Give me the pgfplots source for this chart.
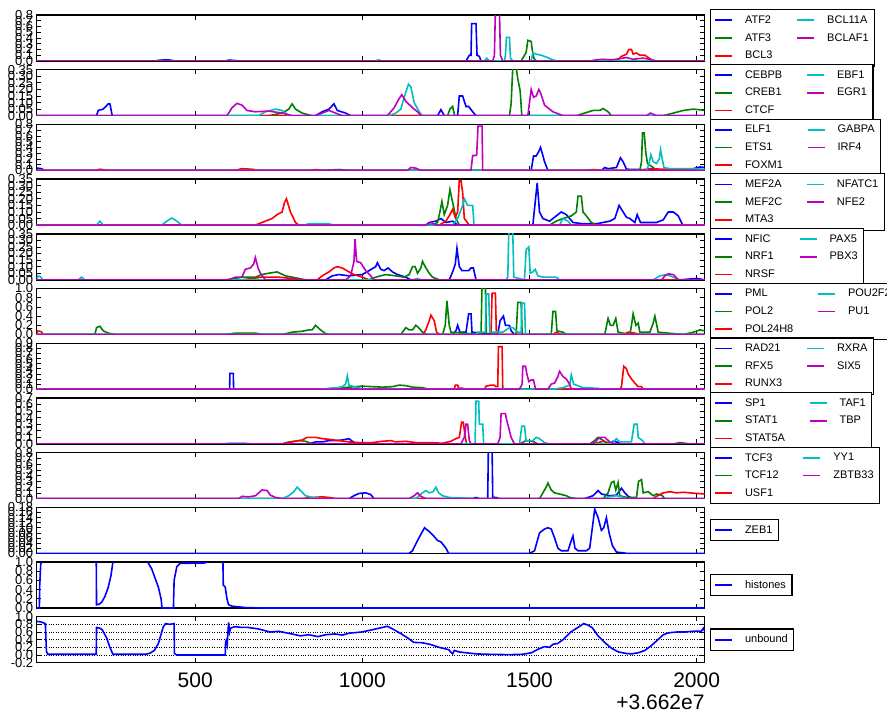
\documentclass[border=0pt]{standalone}
\usepackage{fontspec}
\setmainfont{Liberation Sans}
\usepackage{pgfplots}
\pgfplotsset{compat=1.18}

\definecolor{mpb}{rgb}{0,0,1}
\definecolor{mpg}{rgb}{0,0.5,0}
\definecolor{mpr}{rgb}{1,0,0}
\definecolor{mpc}{rgb}{0,0.75,0.75}
\definecolor{mpm}{rgb}{0.75,0,0.75}

\pgfplotsset{
  panel/.style={
    scale only axis, width=668pt, height=46pt,
    xmin=26, xmax=2024, ymin=0,
    xtick={500,1000,1500,2000}, xticklabels={},
    tick align=inside, major tick length=4.5pt,
    tick style={black, line width=0.7pt},
    axis line style={black, line width=1.4pt},
    scaled ticks=false,
    /pgf/number format/assume math mode=true,
    yticklabel style={font=\fontsize{13}{13}\selectfont,
      /pgf/number format/fixed, /pgf/number format/fixed zerofill},
    every axis plot/.append style={line width=1.6pt},
    legend columns=2,
    legend cell align=left,
    legend image code/.code={\draw[#1, line width=1.7pt] (0pt,0pt) -- (17pt,0pt);},
    legend style={at={(1.0075,0.5)}, anchor=west, draw=black, line width=1.2pt,
      font=\fontsize{11}{13}\selectfont, inner xsep=4pt, inner ysep=4pt, row sep=4.5pt,
      /tikz/every even column/.append style={column sep=22pt},
      /tikz/every odd column/.append style={column sep=10pt}},
  },
  p1/.style={yticklabel style={/pgf/number format/precision=1}},
  p2/.style={yticklabel style={/pgf/number format/precision=2}},
}
% blue, green, red, cyan, magenta -> matplotlib column-major order
\newcommand\leg[5]{%
  \addlegendimage{mpb}\addlegendentry{#1}%
  \addlegendimage{mpc}\addlegendentry{#4}%
  \addlegendimage{mpg}\addlegendentry{#2}%
  \addlegendimage{mpm}\addlegendentry{#5}%
  \addlegendimage{mpr}\addlegendentry{#3}}

\begin{document}
\begin{tikzpicture}

% ATF2 ...
\begin{axis}[panel, p1, at={(36.7pt,-15pt)}, anchor=north west, ymax=0.8,
  ytick={0,0.1,0.2,0.3,0.4,0.5,0.6,0.7,0.8}]
\leg{ATF2}{ATF3}{BCL3}{BCL11A}{BCLAF1}
\addplot[mpb, forget plot] coordinates {(26,0)(380,0)(395,0.015)(420,0.02)(440,0)(590,0)(600,0.015)(615,0.01)(630,0)(1310,0)(1320,0.1)(1325,0.1)(1327,0.65)(1340,0.65)(1343,0.1)(1350,0.08)(1355,0)(2024,0)};
\addplot[mpg, forget plot] coordinates {(26,0)(1475,0)(1480,0.05)(1490,0.15)(1495,0.36)(1505,0.34)(1508,0.2)(1513,0.05)(1520,0)(2024,0)};
\addplot[mpr, forget plot] coordinates {(26,0)(1760,0)(1775,0.08)(1790,0.12)(1797,0.2)(1805,0.2)(1810,0.12)(1820,0.14)(1830,0.1)(1845,0.1)(1855,0.06)(1865,0.02)(1875,0)(2024,0)};
\addplot[mpc, forget plot] coordinates {(26,0)(1040,0)(1048,0.02)(1058,0)(1365,0)(1372,0.05)(1380,0)(1425,0)(1428,0.1)(1431,0.41)(1440,0.41)(1443,0.05)(1450,0)(1505,0)(1510,0.14)(1520,0.12)(1535,0.1)(1550,0.07)(1565,0.03)(1580,0)(2024,0)};
\addplot[mpm, forget plot] coordinates {(26,0)(1390,0)(1395,0.1)(1398,0.9)(1410,0.9)(1413,0.1)(1420,0)(1680,0)(1700,0.02)(1720,0.03)(1745,0.02)(1770,0.04)(1790,0.06)(1810,0.03)(1840,0.05)(1860,0.03)(1880,0)(2024,0)};
\end{axis}

% CEBPB ...
\begin{axis}[panel, p2, at={(36.7pt,-69.7pt)}, anchor=north west, ymax=0.35,
  ytick={0,0.05,0.1,0.15,0.2,0.25,0.3,0.35}]
\leg{CEBPB}{CREB1}{CTCF}{EBF1}{EGR1}
\addplot[mpb, forget plot] coordinates {(26,0)(205,0)(210,0.04)(225,0.05)(240,0.09)(245,0.09)(252,0)(860,0)(880,0.03)(900,0.05)(915,0.09)(925,0.04)(950,0.02)(965,0)(1225,0)(1235,0.046)(1245,0)(1285,0)(1290,0.15)(1300,0.15)(1310,0.07)(1318,0.07)(1330,0.03)(1340,0)(2024,0)};
\addplot[mpg, forget plot] coordinates {(26,0)(720,0)(760,0.02)(780,0.05)(790,0.09)(800,0.05)(820,0.02)(850,0)(1255,0)(1262,0.05)(1270,0.07)(1276,0)(1440,0)(1445,0.09)(1450,0.37)(1460,0.37)(1465,0.28)(1472,0.19)(1477,0)(1640,0)(1665,0.02)(1690,0.04)(1710,0.04)(1720,0.055)(1735,0.03)(1745,0)(1900,0)(1930,0.02)(1960,0.04)(1990,0.05)(2010,0.045)(2024,0.04)};
\addplot[mpr, forget plot] coordinates {(26,0)(2024,0)};
\addplot[mpc, forget plot] coordinates {(26,0)(690,0)(710,0.03)(740,0.05)(760,0.04)(780,0)(1080,0)(1100,0.02)(1115,0.05)(1130,0.18)(1138,0.24)(1145,0.22)(1155,0.1)(1170,0.03)(1180,0)(2024,0)};
\addplot[mpm, forget plot] coordinates {(26,0)(595,0)(610,0.06)(625,0.094)(640,0.08)(655,0.04)(680,0.03)(720,0.035)(760,0.02)(790,0)(860,0)(880,0.02)(900,0.04)(920,0.02)(940,0)(1075,0)(1095,0.06)(1110,0.13)(1118,0.16)(1130,0.11)(1150,0.06)(1165,0.03)(1175,0)(1495,0)(1500,0.1)(1505,0.2)(1512,0.14)(1520,0.15)(1528,0.2)(1535,0.16)(1545,0.08)(1570,0.03)(1600,0)(1850,0)(1862,0.02)(1880,0)(2024,0)};
\end{axis}

% ELF1 ...
\begin{axis}[panel, p1, at={(36.7pt,-124.4pt)}, anchor=north west, ymax=0.8,
  ytick={0,0.1,0.2,0.3,0.4,0.5,0.6,0.7,0.8}]
\leg{ELF1}{ETS1}{FOXM1}{GABPA}{IRF4}
\addplot[mpb, forget plot] coordinates {(26,0)(28,0.04)(40,0.03)(50,0)(880,0)(930,0.015)(960,0)(1505,0)(1512,0.25)(1520,0.25)(1527,0.32)(1533,0.4)(1538,0.3)(1545,0.15)(1555,0)(1715,0)(1725,0.05)(1735,0.03)(1760,0.05)(1772,0.22)(1780,0.15)(1790,0.02)(1950,0)(1990,0.03)(2010,0.06)(2024,0.05)};
\addplot[mpg, forget plot] coordinates {(26,0)(1830,0)(1835,0.15)(1838,0.65)(1843,0.65)(1848,0.3)(1853,0.12)(1870,0.05)(1880,0)(2024,0)};
\addplot[mpr, forget plot] coordinates {(26,0)(200,0)(215,0.02)(240,0)(620,0)(640,0.03)(670,0.02)(690,0)(840,0)(860,0.015)(880,0)(1670,0)(1690,0.015)(1720,0)(1830,0)(1860,0.03)(1900,0.02)(2024,0.01)};
\addplot[mpc, forget plot] coordinates {(26,0)(1850,0)(1857,0.1)(1863,0.27)(1870,0.15)(1880,0.12)(1888,0.2)(1892,0.36)(1897,0.2)(1902,0.05)(1920,0.03)(1980,0.03)(2024,0.02)};
\addplot[mpm, forget plot] coordinates {(26,0)(1135,0)(1145,0.05)(1160,0.04)(1175,0)(1325,0)(1330,0.26)(1340,0.26)(1342,0.27)(1346,0.77)(1358,0.77)(1360,0)(2024,0)};
\end{axis}

% MEF2A ...
\begin{axis}[panel, p2, at={(36.7pt,-179.1pt)}, anchor=north west, ymax=0.35,
  ytick={0,0.05,0.1,0.15,0.2,0.25,0.3,0.35}]
\leg{MEF2A}{MEF2C}{MTA3}{NFATC1}{NFE2}
\addplot[mpb, forget plot] coordinates {(26,0)(860,0)(890,0.01)(915,0)(1190,0)(1200,0.02)(1220,0.03)(1235,0.05)(1250,0.02)(1270,0.03)(1285,0)(1510,0)(1518,0.2)(1523,0.32)(1530,0.1)(1540,0.05)(1560,0.03)(1585,0.08)(1595,0.1)(1610,0.08)(1630,0.02)(1660,0.01)(1700,0.01)(1740,0.03)(1755,0.05)(1768,0.15)(1780,0.1)(1790,0.06)(1800,0.05)(1815,0.02)(1822,0.08)(1832,0.02)(1880,0.02)(1900,0.04)(1915,0.1)(1930,0.1)(1945,0.07)(1958,0)(2024,0)};
\addplot[mpg, forget plot] coordinates {(26,0)(1210,0)(1225,0.02)(1232,0.1)(1238,0.18)(1245,0.08)(1255,0.15)(1262,0.27)(1272,0.15)(1280,0.05)(1290,0)(1560,0)(1580,0.03)(1600,0.05)(1625,0.07)(1640,0.1)(1645,0.22)(1655,0.22)(1660,0.1)(1670,0.07)(1685,0.02)(1700,0)(2024,0)};
\addplot[mpr, forget plot] coordinates {(26,0)(680,0)(700,0.02)(730,0.05)(745,0.08)(760,0.1)(767,0.17)(773,0.2)(785,0.1)(800,0.02)(810,0)(1230,0)(1250,0.03)(1262,0.08)(1270,0.12)(1278,0.06)(1285,0.1)(1290,0.34)(1295,0.34)(1300,0.25)(1305,0.05)(1320,0)(2024,0)};
\addplot[mpc, forget plot] coordinates {(26,0)(205,0)(215,0.03)(225,0)(400,0)(415,0.03)(430,0.054)(445,0.03)(460,0)(825,0)(840,0.01)(900,0.01)(910,0)(1270,0)(1285,0.05)(1300,0.15)(1305,0.2)(1315,0.15)(1325,0.15)(1330,0.15)(1334,0)(1590,0)(1600,0.05)(1615,0.03)(1625,0)(2024,0)};
\addplot[mpm, forget plot] coordinates {(26,0)(1190,0)(1205,0.02)(1220,0)(2024,0)};
\end{axis}

% NFIC ...
\begin{axis}[panel, p2, at={(36.7pt,-233.8pt)}, anchor=north west, ymax=0.35,
  ytick={0,0.05,0.1,0.15,0.2,0.25,0.3,0.35}]
\leg{NFIC}{NRF1}{NRSF}{PAX5}{PBX3}
\addplot[mpb, forget plot] coordinates {(26,0)(890,0)(910,0.03)(930,0.04)(960,0.03)(1000,0.04)(1020,0.07)(1040,0.1)(1045,0.13)(1055,0.08)(1065,0.07)(1077,0.09)(1090,0.06)(1105,0.04)(1130,0.02)(1145,0)(1260,0)(1270,0.06)(1278,0.12)(1283,0.24)(1290,0.1)(1298,0.07)(1318,0.07)(1325,0.09)(1332,0.09)(1340,0)(1950,0)(2000,0.01)(2024,0)};
\addplot[mpg, forget plot] coordinates {(26,0)(590,0)(620,0.01)(640,0.02)(680,0.02)(700,0.04)(720,0.05)(745,0.06)(770,0.03)(800,0.015)(830,0)(1020,0)(1040,0.02)(1070,0.04)(1100,0.03)(1125,0.02)(1140,0.04)(1150,0.1)(1158,0.1)(1165,0.05)(1175,0.09)(1180,0.14)(1188,0.1)(1200,0.05)(1210,0.02)(1230,0)(2024,0)};
\addplot[mpr, forget plot] coordinates {(26,0)(640,0)(670,0.01)(700,0.02)(750,0.02)(790,0.01)(820,0)(865,0)(880,0.03)(900,0.06)(915,0.09)(925,0.1)(940,0.09)(960,0.06)(975,0.04)(1000,0.02)(1020,0)(2024,0)};
\addplot[mpc, forget plot] coordinates {(26,0)(30,0.03)(38,0.02)(45,0)(150,0)(160,0.02)(170,0)(1150,0)(1165,0.01)(1175,0)(1430,0)(1435,0.02)(1438,0.36)(1450,0.36)(1453,0.02)(1485,0)(1490,0.23)(1498,0.25)(1502,0.05)(1510,0.06)(1517,0.08)(1525,0.03)(1540,0.02)(1560,0.02)(1580,0.02)(1590,0)(1870,0)(1890,0.03)(1910,0.04)(1930,0.02)(1950,0)(2024,0)};
\addplot[mpm, forget plot] coordinates {(26,0)(600,0)(620,0.02)(640,0.02)(650,0.08)(665,0.09)(675,0.12)(680,0.17)(688,0.09)(695,0.05)(710,0)(950,0)(965,0.03)(975,0.14)(978,0.31)(983,0.14)(995,0.13)(1010,0.07)(1025,0.03)(1035,0)(1895,0)(1905,0.03)(1915,0.045)(1930,0.04)(1945,0)(2024,0)};
\end{axis}

% PML ...
\begin{axis}[panel, p1, at={(36.7pt,-288.5pt)}, anchor=north west, ymax=1.0,
  ytick={0,0.2,0.4,0.6,0.8,1.0}]
\leg{PML}{POL2}{POL24H8}{POU2F2}{PU1}
\addplot[mpb, forget plot] coordinates {(26,0)(1270,0)(1280,0.08)(1285,0.2)(1292,0.05)(1310,0.05)(1318,0.45)(1325,0.45)(1328,0.05)(1405,0)(1412,0.3)(1422,0.4)(1428,0.2)(1440,0.2)(1445,0.08)(1455,0)(1790,0)(1800,0.03)(1815,0)(2024,0)};
\addplot[mpg, forget plot] coordinates {(26,0)(200,0)(205,0.15)(215,0.18)(225,0.08)(240,0.03)(260,0)(590,0)(620,0.03)(680,0.03)(700,0)(760,0)(790,0.05)(820,0.07)(840,0.1)(850,0.1)(860,0.2)(875,0.1)(890,0.02)(900,0)(1115,0)(1130,0.15)(1140,0.1)(1150,0.1)(1160,0.2)(1168,0.15)(1180,0.05)(1195,0)(1240,0)(1248,0.2)(1253,0.73)(1260,0.2)(1265,0.05)(1355,0)(1358,1.05)(1368,1.05)(1371,0)(1460,0)(1465,0.7)(1475,0.7)(1478,0)(1565,0)(1570,0.5)(1578,0.5)(1582,0.08)(1600,0.05)(1610,0)(1725,0)(1735,0.35)(1742,0.2)(1750,0.2)(1758,0.35)(1765,0.05)(1800,0)(1805,0.2)(1810,0.45)(1818,0.2)(1825,0.25)(1830,0.05)(1860,0.05)(1870,0.25)(1875,0.4)(1885,0.05)(1960,0)(1990,0.05)(2010,0.1)(2024,0.08)};
\addplot[mpr, forget plot] coordinates {(26,0)(28,0.08)(40,0.06)(45,0)(1180,0)(1190,0.1)(1200,0.3)(1205,0.42)(1215,0.3)(1222,0.05)(1232,0)(1385,0)(1388,0.9)(1398,0.9)(1401,0)(1570,0)(1580,0.05)(1595,0)(1780,0)(1795,0.05)(1815,0.03)(1830,0)(2024,0)};
\addplot[mpc, forget plot] coordinates {(26,0)(1340,0)(1345,0.05)(1368,0.05)(1370,0.88)(1378,0.88)(1381,0.05)(1420,0.05)(1440,0.15)(1450,0.15)(1465,0.05)(1475,0.05)(1477,0.68)(1485,0.68)(1488,0.02)(1500,0)(2024,0)};
\addplot[mpm, forget plot] coordinates {(26,0)(2024,0)};
\end{axis}

% RAD21 ...
\begin{axis}[panel, p1, at={(36.7pt,-343.2pt)}, anchor=north west, ymax=0.9,
  ytick={0,0.1,0.2,0.3,0.4,0.5,0.6,0.7,0.8,0.9}]
\leg{RAD21}{RFX5}{RUNX3}{RXRA}{SIX5}
\addplot[mpb, forget plot] coordinates {(26,0)(603,0)(604,0.31)(614,0.31)(615,0)(2024,0)};
\addplot[mpg, forget plot] coordinates {(26,0)(880,0)(910,0.02)(940,0.03)(980,0.05)(1000,0.06)(1030,0.05)(1060,0.04)(1090,0.05)(1110,0.08)(1130,0.07)(1150,0.04)(1180,0.03)(1200,0)(2024,0)};
\addplot[mpr, forget plot] coordinates {(26,0)(1275,0)(1278,0.08)(1285,0.08)(1288,0.02)(1300,0.02)(1305,0)(1365,0)(1370,0.06)(1385,0.08)(1395,0.08)(1398,0.05)(1405,0.05)(1407,0.83)(1418,0.83)(1420,0)(1770,0)(1775,0.05)(1782,0.45)(1790,0.4)(1795,0.3)(1805,0.2)(1815,0.12)(1825,0.05)(1835,0.05)(1840,0)(2024,0)};
\addplot[mpc, forget plot] coordinates {(26,0)(880,0)(920,0.02)(940,0.05)(950,0.1)(955,0.26)(960,0.08)(975,0.05)(990,0.03)(1000,0)(1570,0)(1600,0.03)(1620,0.08)(1625,0.28)(1632,0.1)(1660,0.03)(1700,0.02)(1720,0)(2024,0)};
\addplot[mpm, forget plot] coordinates {(26,0)(1470,0)(1478,0.1)(1480,0.45)(1488,0.45)(1492,0.3)(1498,0.15)(1505,0.18)(1512,0.18)(1518,0)(1555,0)(1565,0.1)(1575,0.12)(1585,0.25)(1590,0.35)(1600,0.25)(1610,0.2)(1620,0.1)(1625,0)(2024,0)};
\end{axis}

% SP1 ...
\begin{axis}[panel, p1, at={(36.7pt,-397.9pt)}, anchor=north west, ymax=0.7,
  ytick={0,0.1,0.2,0.3,0.4,0.5,0.6,0.7}]
\leg{SP1}{STAT1}{STAT5A}{TAF1}{TBP}
\addplot[mpb, forget plot] coordinates {(26,0)(840,0)(860,0.03)(880,0.03)(900,0.05)(920,0.05)(940,0.06)(960,0.08)(970,0.04)(985,0)(1740,0)(1750,0.04)(1760,0.03)(1775,0)(2024,0)};
\addplot[mpg, forget plot] coordinates {(26,0)(760,0)(780,0.03)(810,0.05)(830,0.04)(850,0)(1470,0)(1490,0.05)(1510,0.04)(1525,0)(1680,0)(1695,0.05)(1705,0.1)(1715,0.07)(1730,0.02)(1745,0)(1930,0)(1950,0.02)(1980,0)(2024,0)};
\addplot[mpr, forget plot] coordinates {(26,0)(760,0)(790,0.03)(820,0.06)(835,0.1)(860,0.1)(880,0.08)(900,0.07)(930,0.05)(960,0.03)(990,0.02)(1030,0.02)(1060,0.04)(1085,0.05)(1100,0.03)(1130,0.04)(1160,0.02)(1200,0.02)(1240,0.01)(1265,0.04)(1280,0.08)(1290,0.1)(1297,0.33)(1302,0.33)(1308,0.1)(1312,0)(1690,0)(1720,0.04)(1750,0)(2024,0)};
\addplot[mpc, forget plot] coordinates {(26,0)(580,0)(600,0.01)(650,0.01)(670,0)(1337,0)(1340,0.65)(1348,0.65)(1350,0.3)(1360,0.3)(1363,0)(1470,0)(1477,0.27)(1485,0.27)(1490,0.05)(1510,0.05)(1520,0.1)(1530,0.08)(1545,0.02)(1560,0)(1745,0)(1760,0.08)(1770,0.03)(1805,0.03)(1813,0.3)(1822,0.3)(1825,0.1)(1838,0.05)(1845,0)(2024,0)};
\addplot[mpm, forget plot] coordinates {(26,0)(1295,0)(1305,0.1)(1310,0.3)(1315,0.3)(1320,0.05)(1325,0)(1405,0)(1412,0.1)(1415,0.46)(1428,0.46)(1430,0.4)(1440,0.2)(1445,0.1)(1450,0.05)(1455,0)(1690,0)(1700,0.05)(1710,0.1)(1725,0.1)(1740,0.03)(1755,0)(2024,0)};
\end{axis}

% TCF3 ...
\begin{axis}[panel, p1, at={(36.7pt,-452.6pt)}, anchor=north west, ymax=0.8,
  ytick={0,0.1,0.2,0.3,0.4,0.5,0.6,0.7,0.8}]
\leg{TCF3}{TCF12}{USF1}{YY1}{ZBTB33}
\addplot[mpb, forget plot] coordinates {(26,0)(960,0)(975,0.05)(990,0.09)(1010,0.1)(1025,0.07)(1035,0)(1330,0)(1340,0.02)(1350,0)(1375,0)(1377,0.9)(1388,0.9)(1390,0.02)(1400,0.02)(1410,0)(1665,0)(1690,0.05)(1705,0.14)(1715,0.08)(1740,0.05)(1760,0.06)(1775,0.18)(1785,0.1)(1795,0.04)(1810,0)(2024,0)};
\addplot[mpg, forget plot] coordinates {(26,0)(1530,0)(1540,0.1)(1550,0.2)(1555,0.27)(1565,0.15)(1575,0.1)(1590,0.08)(1610,0.05)(1620,0.02)(1640,0)(1720,0)(1735,0.1)(1745,0.28)(1752,0.3)(1758,0.15)(1765,0.28)(1770,0.05)(1790,0.02)(1820,0.02)(1826,0.3)(1835,0.33)(1840,0.1)(1855,0.12)(1870,0.05)(1880,0.08)(1895,0.06)(1905,0)(2024,0)};
\addplot[mpr, forget plot] coordinates {(26,0)(820,0)(850,0.02)(880,0.03)(900,0.02)(920,0)(1870,0)(1880,0.04)(1900,0.1)(1920,0.12)(1940,0.1)(1960,0.11)(1980,0.1)(2000,0.09)(2024,0.08)};
\addplot[mpc, forget plot] coordinates {(26,0)(760,0)(780,0.05)(795,0.12)(805,0.2)(815,0.14)(830,0.05)(850,0.02)(880,0)(1160,0)(1170,0.05)(1180,0.1)(1190,0.14)(1200,0.1)(1212,0.12)(1220,0.2)(1228,0.1)(1240,0.05)(1260,0.02)(1300,0.01)(1340,0)(1720,0)(1735,0.03)(1760,0.05)(1775,0.03)(1790,0)(2024,0)};
\addplot[mpm, forget plot] coordinates {(26,0)(630,0)(640,0.04)(660,0.03)(680,0.05)(690,0.1)(700,0.15)(715,0.14)(725,0.06)(740,0.02)(760,0)(1140,0)(1155,0.05)(1165,0.1)(1175,0.04)(1190,0)(2024,0)};
\end{axis}

% ZEB1
\begin{axis}[panel, p2, at={(36.7pt,-507.3pt)}, anchor=north west, ymax=0.18,
  ytick={0,0.02,0.04,0.06,0.08,0.1,0.12,0.14,0.16,0.18}]
\addplot[mpb] coordinates {(26,0)(1140,0)(1150,0.01)(1165,0.05)(1186,0.1)(1200,0.085)(1212,0.07)(1225,0.05)(1235,0.045)(1250,0.02)(1258,0)(1500,0)(1515,0.01)(1530,0.08)(1545,0.095)(1555,0.1)(1565,0.095)(1575,0.06)(1585,0.02)(1595,0.01)(1615,0.01)(1625,0.05)(1630,0.068)(1636,0.02)(1645,0.01)(1670,0.01)(1680,0.02)(1688,0.1)(1695,0.173)(1705,0.14)(1715,0.09)(1722,0.1)(1730,0.139)(1738,0.08)(1748,0.03)(1760,0.005)(1790,0)(2024,0)};
\addlegendentry{ZEB1}
\end{axis}

% histones
\begin{axis}[panel, p1, at={(36.7pt,-562pt)}, anchor=north west, ymax=1.0,
  ytick={0,0.2,0.4,0.6,0.8,1.0}]
\addplot[mpb] coordinates {(26,0)(34,0)(35,0.5)(38,0.95)(45,1.05)(60,1.2)(204,1.2)(205,0.07)(212,0.08)(220,0.12)(230,0.25)(240,0.45)(248,0.7)(254,1.0)(258,1.2)(345,1.2)(358,1.0)(370,0.85)(380,0.65)(390,0.45)(398,0.2)(401,0)(435,0)(437,0.6)(445,0.9)(455,0.97)(530,0.98)(540,1.02)(580,1.02)(583,1.0)(584,0.5)(590,0.45)(595,0.2)(600,0.07)(610,0.04)(650,0.01)(700,0)(2024,0)};
\addlegendentry{histones}
\end{axis}

% unbound
\begin{axis}[panel, p1, at={(36.7pt,-616.7pt)}, anchor=north west, ymin=-0.2, ymax=1.0,
  ytick={-0.2,0,0.2,0.4,0.6,0.8,1.0},
  ymajorgrids, grid style={black, dotted, line width=0.6pt},
  clip mode=individual,
  xticklabels={500,1000,1500,2000},
  xticklabel style={font=\fontsize{21}{21}\selectfont, yshift=-7pt}]
\addplot[mpb] coordinates {(26,0.88)(40,0.86)(52,0.82)(55,0.1)(59,0.02)(120,0.02)(204,0.02)(205,0.72)(215,0.7)(222,0.66)(235,0.45)(245,0.2)(254,0.02)(352,0.02)(365,0.05)(378,0.12)(390,0.3)(400,0.6)(404,0.72)(411,0.82)(424,0.8)(437,0.82)(438,0.04)(445,0.0)(590,0.0)(591,0.35)(594,0.4)(596,0.3)(598,0.6)(600,0.85)(603,0.6)(606,0.7)(612,0.72)(619,0.74)(640,0.72)(658,0.72)(690,0.68)(724,0.6)(750,0.62)(789,0.55)(815,0.5)(840,0.53)(867,0.48)(890,0.53)(919,0.55)(940,0.52)(960,0.57)(997,0.6)(1030,0.66)(1060,0.72)(1075,0.75)(1095,0.66)(1115,0.56)(1135,0.45)(1154,0.33)(1180,0.32)(1206,0.27)(1230,0.2)(1258,0.14)(1270,0.03)(1275,0.12)(1290,0.08)(1310,0.06)(1340,0.03)(1375,0.02)(1440,0.01)(1480,0.02)(1506,0.06)(1525,0.15)(1545,0.22)(1560,0.2)(1570,0.28)(1584,0.3)(1600,0.4)(1623,0.6)(1645,0.72)(1662,0.82)(1675,0.78)(1688,0.71)(1705,0.5)(1727,0.31)(1745,0.18)(1766,0.08)(1790,0.04)(1805,0.03)(1825,0.06)(1845,0.12)(1865,0.25)(1884,0.4)(1900,0.53)(1916,0.58)(1940,0.6)(1962,0.6)(1990,0.62)(2014,0.62)(2020,0.7)(2024,0.62)};
\addlegendentry{unbound}
\node[anchor=north east, inner sep=0pt, font=\fontsize{21}{21}\selectfont]
  at (rel axis cs:1,0) [yshift=-32pt] {+3.662e7};
\end{axis}

\pgfresetboundingbox
\path[use as bounding box] (0pt,0pt) rectangle (887pt,-715pt);
\end{tikzpicture}
\end{document}
